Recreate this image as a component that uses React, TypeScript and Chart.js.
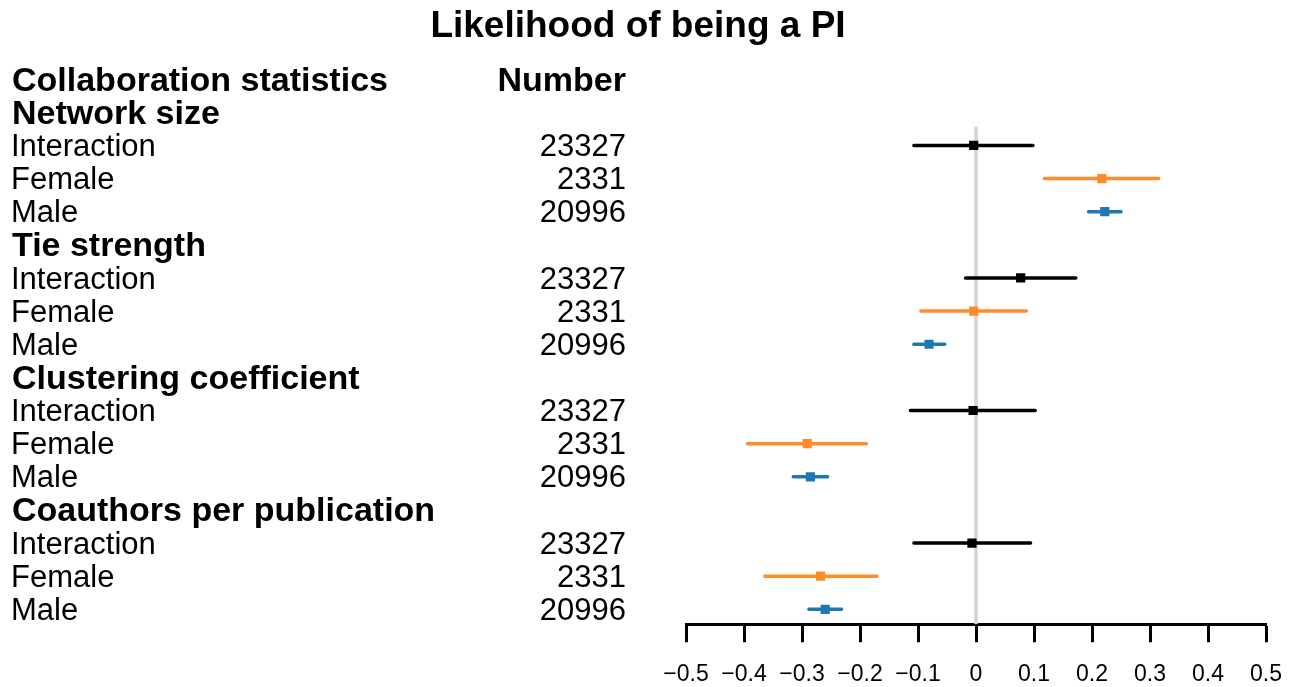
import React, { useEffect, useRef } from "react";
import { Chart, registerables } from "chart.js";

Chart.register(...registerables);

const titleText = "Likelihood of being a PI";
const headerLabel = "Collaboration statistics";
const headerNumber = "Number";
const groups = ["Network size", "Tie strength", "Clustering coefficient", "Coauthors per publication"];
const subgroups = ["Interaction", "Female", "Male"];
const counts = [23327, 2331, 20996];
const seriesColors = ["#000000", "#ff8c29", "#1f77b4"];

const interactionEst = [-0.004, 0.077, -0.005, -0.007];
const interactionLow = [-0.107, -0.018, -0.113, -0.107];
const interactionHigh = [0.098, 0.172, 0.102, 0.094];

const femaleEst = [0.217, -0.004, -0.291, -0.268];
const femaleLow = [0.118, -0.095, -0.394, -0.364];
const femaleHigh = [0.315, 0.087, -0.189, -0.171];

const maleEst = [0.222, -0.081, -0.2855, -0.26];
const maleLow = [0.194, -0.107, -0.315, -0.288];
const maleHigh = [0.25, -0.054, -0.256, -0.232];

const xTicks = [-0.5, -0.4, -0.3, -0.2, -0.1, 0, 0.1, 0.2, 0.3, 0.4, 0.5];

const FONT = "'Liberation Sans', Arial, Helvetica, sans-serif";

export default function App() {
  const ref = useRef<HTMLCanvasElement | null>(null);

  useEffect(() => {
    if (!ref.current) return;
    const est = [interactionEst, femaleEst, maleEst];
    const low = [interactionLow, femaleLow, maleLow];
    const high = [interactionHigh, femaleHigh, maleHigh];

    const datasets: any[] = [];
    // zero reference line
    datasets.push({
      type: "line",
      data: [
        { x: 0, y: 1.43 },
        { x: 0, y: 16.45 },
      ],
      borderColor: "#d3d3d3",
      borderWidth: 3.5,
      pointRadius: 0,
      showLine: true,
      order: 100,
    });
    for (let s = 0; s < subgroups.length; s++) {
      for (let g = 0; g < groups.length; g++) {
        const row = 2 + 4 * g + s;
        datasets.push({
          type: "line",
          data: [
            { x: low[s][g], y: row },
            { x: high[s][g], y: row },
          ],
          borderColor: seriesColors[s],
          borderWidth: 3.5,
          borderCapStyle: "round",
          pointRadius: 0,
          showLine: true,
          order: 50,
        });
      }
      datasets.push({
        type: "scatter",
        data: groups.map((_, g) => ({ x: est[s][g], y: 2 + 4 * g + s })),
        backgroundColor: seriesColors[s],
        borderColor: seriesColors[s],
        borderWidth: 0,
        pointStyle: "rect",
        pointRadius: 6.5,
        order: 1,
      });
    }

    const textPlugin = {
      id: "forestText",
      afterDraw(chart: any) {
        const ctx = chart.ctx;
        const ys = chart.scales.y;
        const off = 2;
        ctx.save();
        ctx.fillStyle = "#000";
        ctx.textBaseline = "alphabetic";
        ctx.textAlign = "center";
        ctx.font = `bold 37px ${FONT}`;
        ctx.fillText(titleText, 638, 37);

        ctx.textBaseline = "middle";
        const bold = `bold 34px ${FONT}`;
        const regular = `31px ${FONT}`;
        // header row
        ctx.font = bold;
        ctx.textAlign = "left";
        ctx.fillText(headerLabel, 12, ys.getPixelForValue(0) + off);
        ctx.textAlign = "right";
        ctx.fillText(headerNumber, 626, ys.getPixelForValue(0) + off);
        for (let g = 0; g < groups.length; g++) {
          ctx.font = bold;
          ctx.textAlign = "left";
          ctx.fillText(groups[g], 12, ys.getPixelForValue(1 + 4 * g) + off);
          for (let s = 0; s < subgroups.length; s++) {
            const py = ys.getPixelForValue(2 + 4 * g + s) + off;
            ctx.font = regular;
            ctx.textAlign = "left";
            ctx.fillText(subgroups[s], 11, py);
            ctx.textAlign = "right";
            ctx.fillText(String(counts[s]), 626, py);
          }
        }
        ctx.restore();
      },
    };

    const chart = new Chart(ref.current, {
      type: "scatter",
      data: { datasets },
      options: {
        animation: false,
        responsive: false,
        devicePixelRatio: 1,
        layout: { padding: { left: 686, right: 31, top: 46, bottom: -21 } },
        plugins: {
          legend: { display: false },
          tooltip: { enabled: false },
          title: { display: false },
        },
        scales: {
          x: {
            type: "linear",
            min: -0.5,
            max: 0.5,
            afterBuildTicks: (axis: any) => {
              axis.ticks = xTicks.map((v) => ({ value: v }));
            },
            afterFit: (axis: any) => {
              axis.paddingLeft = 0;
              axis.paddingRight = 0;
            },
            ticks: {
              autoSkip: false,
              maxRotation: 0,
              padding: 20,
              color: "#000",
              font: { family: FONT, size: 23, lineHeight: 1.12 },
              callback: (v: any) => {
                const n = Number(v);
                if (Math.abs(n) < 1e-9) return "0";
                const s = Math.abs(n).toFixed(1);
                return n < 0 ? "\u2212" + s : s;
              },
            },
            grid: {
              drawOnChartArea: false,
              drawTicks: true,
              tickLength: 18,
              tickWidth: 3,
              tickColor: "#000",
            },
            border: { display: true, color: "#000", width: 3 },
          },
          y: {
            type: "linear",
            reverse: true,
            min: -1,
            max: 16.45,
            display: false,
          },
        },
      },
      plugins: [textPlugin],
    } as any);
    return () => chart.destroy();
  }, []);

  return (
    <div style={{ position: "absolute", left: 0, top: 0, width: 1297, height: 687, background: "#fff" }}>
      <canvas ref={ref} width={1297} height={687} />
    </div>
  );
}
